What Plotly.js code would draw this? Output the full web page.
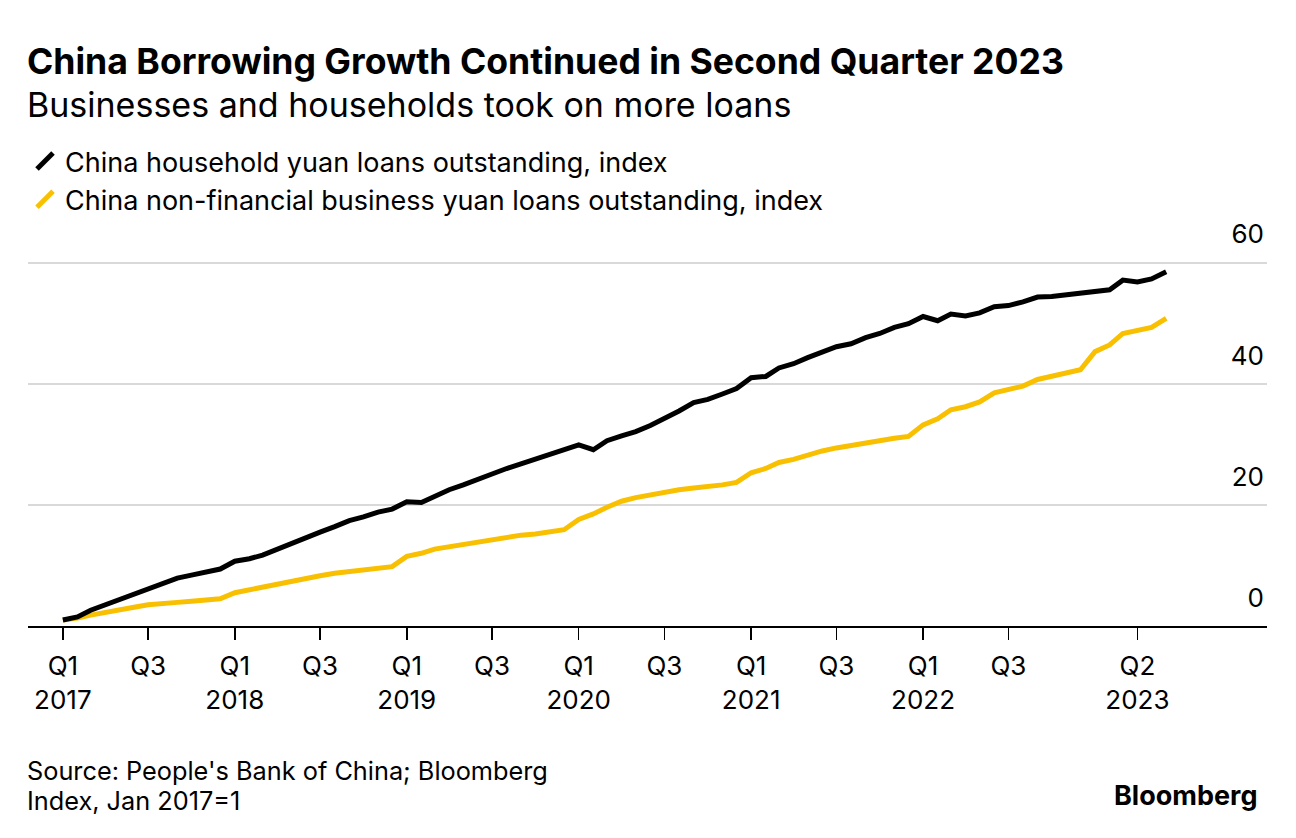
<!DOCTYPE html>
<html>
<head>
<meta charset="utf-8">
<script src="https://cdn.plot.ly/plotly-3.0.1.min.js"></script>
<style>
  html, body { margin: 0; padding: 0; background: #fff; }
  #chart { width: 1296px; height: 838px; }
</style>
</head>
<body>
<div id="chart"></div>
<script>
const months = [
  "2017-01-01","2017-02-01","2017-03-01","2017-04-01","2017-05-01","2017-06-01","2017-07-01","2017-08-01","2017-09-01","2017-10-01","2017-11-01","2017-12-01",
  "2018-01-01","2018-02-01","2018-03-01","2018-04-01","2018-05-01","2018-06-01","2018-07-01","2018-08-01","2018-09-01","2018-10-01","2018-11-01","2018-12-01",
  "2019-01-01","2019-02-01","2019-03-01","2019-04-01","2019-05-01","2019-06-01","2019-07-01","2019-08-01","2019-09-01","2019-10-01","2019-11-01","2019-12-01",
  "2020-01-01","2020-02-01","2020-03-01","2020-04-01","2020-05-01","2020-06-01","2020-07-01","2020-08-01","2020-09-01","2020-10-01","2020-11-01","2020-12-01",
  "2021-01-01","2021-02-01","2021-03-01","2021-04-01","2021-05-01","2021-06-01","2021-07-01","2021-08-01","2021-09-01","2021-10-01","2021-11-01","2021-12-01",
  "2022-01-01","2022-02-01","2022-03-01","2022-04-01","2022-05-01","2022-06-01","2022-07-01","2022-08-01","2022-09-01","2022-10-01","2022-11-01","2022-12-01",
  "2023-01-01","2023-02-01","2023-03-01","2023-04-01","2023-05-01","2023-06-01"
];

const household = [
  1.0, 1.5, 2.6, 3.5, 4.5, 5.4, 6.2, 7.1, 7.9, 8.4, 9.0, 9.4,
  10.7, 11.1, 11.7, 12.7, 13.6, 14.5, 15.5, 16.4, 17.4, 18.0, 18.8, 19.3,
  20.5, 20.4, 21.5, 22.5, 23.3, 24.3, 25.1, 26.0, 26.8, 27.4, 28.3, 29.1,
  29.9, 29.1, 30.6, 31.4, 32.1, 33.1, 34.2, 35.5, 36.9, 37.4, 38.3, 39.2,
  41.0, 41.2, 42.6, 43.3, 44.3, 45.3, 46.1, 46.6, 47.6, 48.3, 49.3, 49.9,
  51.1, 50.4, 51.5, 51.2, 51.7, 52.7, 52.9, 53.5, 54.3, 54.4, 54.7, 55.0,
  55.2, 55.5, 57.1, 56.8, 57.3, 58.5
];

const business = [
  1.0, 1.3, 1.8, 2.3, 2.8, 3.1, 3.5, 3.6, 3.9, 4.1, 4.3, 4.5,
  5.5, 6.0, 6.5, 7.0, 7.3, 7.9, 8.3, 8.7, 9.0, 9.1, 9.4, 9.8,
  11.5, 12.0, 12.7, 13.1, 13.4, 13.9, 14.1, 14.5, 15.0, 15.2, 15.5, 15.9,
  17.6, 18.5, 19.6, 20.6, 21.2, 21.7, 22.1, 22.5, 22.8, 23.0, 23.3, 23.7,
  25.3, 26.0, 27.0, 27.5, 28.2, 28.9, 29.4, 29.8, 30.4, 30.7, 31.0, 31.3,
  33.2, 34.2, 35.7, 36.2, 37.0, 38.5, 39.0, 39.6, 40.7, 41.2, 41.7, 42.3,
  45.3, 46.4, 48.3, 48.8, 49.3, 50.8
];

const seriesNames = [
  "China household yuan loans outstanding, index",
  "China non-financial business yuan loans outstanding, index"
];

const xTickVals = [
  "2017-01-01","2017-07-01","2018-01-01","2018-07-01","2019-01-01","2019-07-01",
  "2020-01-01","2020-07-01","2021-01-01","2021-07-01","2022-01-01","2022-07-01","2023-04-01"
];
const xTickText = [
  "Q1<br>2017","Q3","Q1<br>2018","Q3","Q1<br>2019","Q3",
  "Q1<br>2020","Q3","Q1<br>2021","Q3","Q1<br>2022","Q3","Q2<br>2023"
];
const yTickVals = [0, 20, 40, 60];

const BLACK = "#000000";
const YELLOW = "#f8c000";
const FONT = "Inter, 'Liberation Sans', Arial, sans-serif";

const traces = [
  { x: months, y: business, type: "scatter", mode: "lines", showlegend: false,
    line: { color: YELLOW, width: 5 }, hoverinfo: "x+y" },
  { x: months, y: household, type: "scatter", mode: "lines", showlegend: false,
    line: { color: BLACK, width: 5 }, hoverinfo: "x+y" },
  { x: [null], y: [null], type: "scatter", mode: "markers", name: seriesNames[0],
    marker: { symbol: "line-ne", size: 16, color: BLACK, line: { color: BLACK, width: 5 } } },
  { x: [null], y: [null], type: "scatter", mode: "markers", name: seriesNames[1],
    marker: { symbol: "line-ne", size: 16, color: YELLOW, line: { color: YELLOW, width: 5 } } }
];

// plot area: x 28..1267 px, y 202..626 px (range 0..70 so 60 sits at ~263 px)
const PL = 28, PR = 1267, PT = 202, PB = 626;
const px = v => (v - PL) / (PR - PL);
const py = v => (PB - v) / (PB - PT);

const layout = {
  width: 1296, height: 838,
  paper_bgcolor: "#ffffff", plot_bgcolor: "#ffffff",
  font: { family: FONT, color: "#000000", size: 24 },
  margin: { l: PL, r: 1296 - PR, t: PT, b: 838 - PB, pad: 0 },
  title: {
    text: "<b>China Borrowing Growth Continued in Second Quarter 2023</b>",
    font: { family: FONT, size: 35.6, color: "#000" },
    xref: "container", yref: "container",
    x: 27 / 1296, xanchor: "left",
    y: 1 - 62 / 838, yanchor: "middle"
  },
  showlegend: true,
  legend: {
    x: px(25), xanchor: "left",
    y: py(137), yanchor: "top",
    font: { family: FONT, size: 27, color: "#000" },
    bgcolor: "rgba(0,0,0,0)", borderwidth: 0,
    itemwidth: 30, tracegroupgap: 0, orientation: "v"
  },
  xaxis: {
    type: "date",
    range: ["2016-10-19", "2024-01-01"],
    tickmode: "array", tickvals: xTickVals, ticktext: xTickText,
    showgrid: false, zeroline: false,
    showline: true, linecolor: BLACK, linewidth: 1.5,
    ticks: "outside", ticklen: 12, tickwidth: 1.5, tickcolor: BLACK,
    ticklabelstandoff: 4,
    tickfont: { family: FONT, size: 26, color: "#000" },
    fixedrange: true
  },
  yaxis: {
    range: [0, 70],
    side: "right",
    tickmode: "array", tickvals: yTickVals,
    ticklabelposition: "inside top",
    ticklabelshift: -10,
    showgrid: true, gridcolor: "#d9d9d9", gridwidth: 2,
    zeroline: false, showline: false, ticks: "",
    tickfont: { family: FONT, size: 26, color: "#000" },
    fixedrange: true
  },
  annotations: [
    { text: "Businesses and households took on more loans", xref: "paper", yref: "paper",
      x: px(25), y: py(104), xanchor: "left", yanchor: "middle", showarrow: false,
      font: { family: FONT, size: 34, color: "#000" } },
    { text: "Source: People's Bank of China; Bloomberg", xref: "paper", yref: "paper",
      x: px(25), y: py(770), xanchor: "left", yanchor: "middle", showarrow: false,
      font: { family: FONT, size: 25.3, color: "#000" } },
    { text: "Index, Jan 2017=1", xref: "paper", yref: "paper",
      x: px(25), y: py(800), xanchor: "left", yanchor: "middle", showarrow: false,
      font: { family: FONT, size: 25.3, color: "#000" } },
    { text: "<b>Bloomberg</b>", xref: "paper", yref: "paper",
      x: px(1259), y: py(795), xanchor: "right", yanchor: "middle", showarrow: false,
      font: { family: FONT, size: 27, color: "#000" } }
  ]
};

Plotly.newPlot("chart", traces, layout, { displayModeBar: false, staticPlot: true });
</script>
</body>
</html>
